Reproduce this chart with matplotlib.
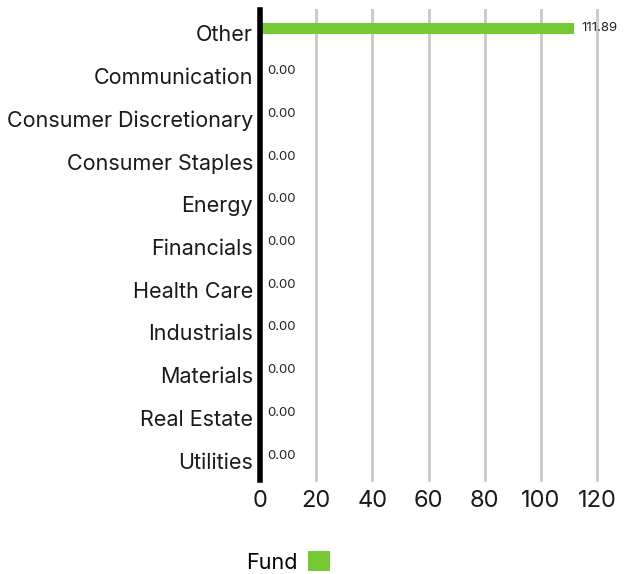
import matplotlib
matplotlib.use('Agg')
import matplotlib.pyplot as plt
import matplotlib.transforms as mtransforms

plt.rcParams['font.family'] = ['Inter', 'DejaVu Sans']

# ── Data ────────────────────────────────────────────────────────────────────
sectors = ['Other', 'Communication', 'Consumer Discretionary', 'Consumer Staples',
           'Energy', 'Financials', 'Health Care', 'Industrials', 'Materials',
           'Real Estate', 'Utilities']
fund = [111.89, 0.00, 0.00, 0.00, 0.00, 0.00, 0.00, 0.00, 0.00, 0.00, 0.00]
xticks = [0, 20, 40, 60, 80, 100, 120]

GREEN = '#76c934'
W, H = 633, 574

fig = plt.figure(figsize=(W / 100, H / 100), dpi=100)
ax = fig.add_axes([260 / W, 1 - 480 / H, (597 - 260) / W, (480 - 10) / H])

ypos = list(range(len(sectors)))
bar_y = [y - 0.07 for y in ypos]
ax.barh(bar_y, fund, height=0.24, color=GREEN, label='Fund', zorder=3)

for y, v in zip(bar_y, fund):
    ax.text(v + 2.6 if v > 0 else 2.6, y, f'{v:.2f}', va='center', ha='left',
            fontsize=9.5, color='#222222')

ax.set_ylim(len(sectors) - 0.5, -0.5)
ax.set_xlim(0, 120)
ax.set_yticks(ypos)
ax.set_yticklabels(sectors, fontsize=15.5, color='#1a1a1a')
ax.set_xticks(xticks)
ax.set_xticklabels([str(t) for t in xticks], fontsize=17, color='#1a1a1a')
ax.tick_params(axis='y', length=0, pad=5)
ax.tick_params(axis='x', length=0, pad=7)

# nudge sector labels down a touch
shift = mtransforms.ScaledTranslation(0, -2 / 100, fig.dpi_scale_trans)
for lbl in ax.get_yticklabels():
    lbl.set_transform(lbl.get_transform() + shift)

ax.grid(axis='x', color='#c8c8c8', linewidth=2, zorder=0)
for gl in ax.get_xgridlines():
    gl.set_clip_on(False)
for s in ['top', 'right', 'bottom']:
    ax.spines[s].set_visible(False)
ax.spines['left'].set_linewidth(4)
ax.spines['left'].set_color('black')
ax.spines['left'].set_zorder(4)

fig.legend(loc='center', bbox_to_anchor=(288 / W, 1 - 562 / H), markerfirst=False,
           frameon=False, handlelength=1.0, handleheight=1.0, handletextpad=0.5,
           fontsize=15.5)

fig.savefig('out.png', dpi=100)
